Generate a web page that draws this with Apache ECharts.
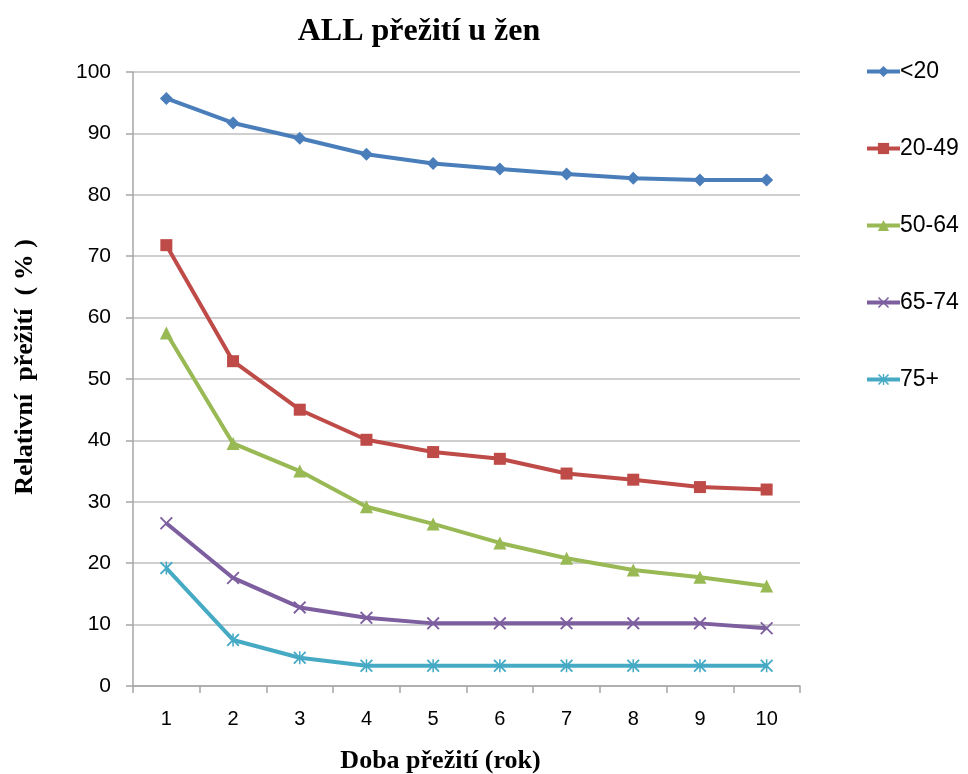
<!DOCTYPE html>
<html>
<head>
<meta charset="utf-8">
<script src="https://cdn.jsdelivr.net/npm/echarts@6/dist/echarts.min.js"></script>
<style>
  html, body { margin: 0; padding: 0; background: #fff; }
  #main { width: 968px; height: 774px; }
</style>
</head>
<body>
<div id="main"></div>
<script>
// roky (osa x)
var years = ['1', '2', '3', '4', '5', '6', '7', '8', '9', '10'];
var seriesNames = ['<20', '20-49', '50-64', '65-74', '75+'];
// relativni preziti v %
var under20 = [95.7, 91.7, 89.2, 86.6, 85.1, 84.2, 83.4, 82.7, 82.4, 82.4];
var age20to49 = [71.8, 52.9, 45.0, 40.1, 38.1, 37.0, 34.6, 33.6, 32.4, 32.0];
var age50to64 = [57.5, 39.5, 35.0, 29.2, 26.4, 23.3, 20.8, 18.9, 17.7, 16.3];
var age65to74 = [26.5, 17.6, 12.8, 11.1, 10.2, 10.2, 10.2, 10.2, 10.2, 9.4];
var age75plus = [19.2, 7.5, 4.6, 3.3, 3.3, 3.3, 3.3, 3.3, 3.3, 3.3];

var colors = ['#4a7ebb', '#be4b48', '#98b954', '#7d5fa0', '#46aac5'];
var crossPath = 'path://M0,1L1,0L5,4L9,0L10,1L6,5L10,9L9,10L5,6L1,10L0,9L4,5Z';
var starPath = 'path://M0,1L1,0L5,4L9,0L10,1L6,5L10,9L9,10L5,6L1,10L0,9L4,5Z M4.4,0L5.6,0L5.6,10L4.4,10Z';
var symbols = ['diamond', 'rect', 'triangle', crossPath, starPath];
var symbolSizes = [13, 12, 13, 13, 13];
var allData = [under20, age20to49, age50to64, age65to74, age75plus];

var series = [];
for (var i = 0; i < allData.length; i++) {
    series.push({
        name: seriesNames[i],
        type: 'line',
        data: allData[i],
        symbol: symbols[i],
        symbolSize: symbolSizes[i],
        showAllSymbol: true,
        lineStyle: { width: 4, color: colors[i] },
        itemStyle: { color: colors[i] },
        emphasis: { disabled: true }
    });
}

var chart = echarts.init(document.getElementById('main'));
chart.setOption({
    animation: false,
    color: colors,
    title: {
        text: 'ALL přežití u žen',
        left: 414,
        top: 11,
        textAlign: 'center',
        textStyle: { fontFamily: 'Liberation Serif', fontWeight: 'bold', fontSize: 32, color: '#000' }
    },
    legend: {
        orient: 'vertical',
        left: 860,
        top: 55,
        itemGap: 54,
        itemWidth: 33,
        itemHeight: 14,
        data: seriesNames,
        lineStyle: { width: 4 },
        textStyle: { fontFamily: 'Liberation Sans', fontSize: 23, color: '#000', padding: [0, 0, 0, -5] }
    },
    grid: { left: 133, right: 168, top: 72, bottom: 88, containLabel: false, outerBoundsMode: 'none' },
    xAxis: {
        type: 'category',
        data: years,
        boundaryGap: true,
        name: 'Doba přežití (rok)',
        nameLocation: 'middle',
        nameGap: 62,
        nameTextStyle: { fontFamily: 'Liberation Serif', fontWeight: 'bold', fontSize: 26, color: '#000', padding: [0, 52, 0, 0] },
        axisLine: { lineStyle: { color: '#a6a6a6', width: 1.5 } },
        axisTick: { show: true, length: 7, lineStyle: { color: '#a6a6a6', width: 1.5 } },
        axisLabel: { fontFamily: 'Liberation Sans', fontSize: 20, color: '#000', margin: 23 }
    },
    yAxis: {
        type: 'value',
        min: 0,
        max: 100,
        interval: 10,
        name: 'Relativní  přežití  ( % )',
        nameLocation: 'middle',
        nameGap: 95,
        nameTextStyle: { fontFamily: 'Liberation Serif', fontWeight: 'bold', fontSize: 26, color: '#000', padding: [0, 0, 0, 24] },
        axisLine: { show: true, lineStyle: { color: '#a6a6a6', width: 1.5 } },
        axisTick: { show: true, length: 7, lineStyle: { color: '#a6a6a6', width: 1.5 } },
        axisLabel: { fontFamily: 'Liberation Sans', fontSize: 21, color: '#000', margin: 22 },
        splitLine: { lineStyle: { color: '#bfbfbf', width: 1.5 } }
    },
    series: series
});
</script>
</body>
</html>
